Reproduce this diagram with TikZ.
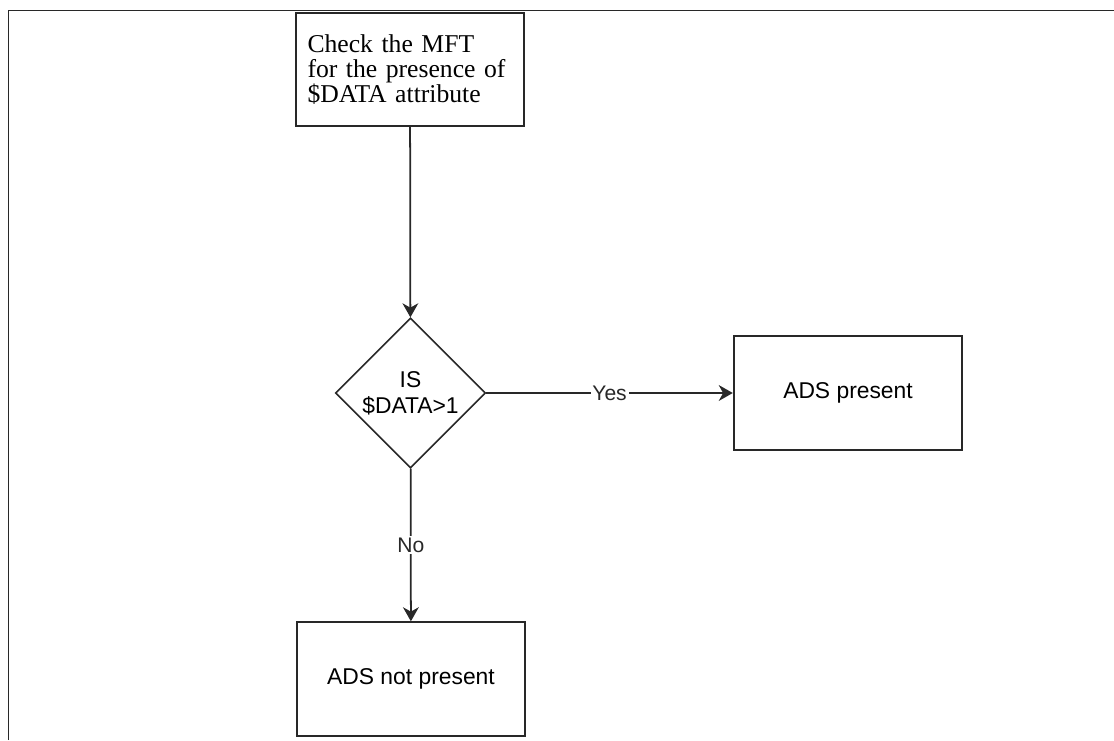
\documentclass[tikz,border=0pt]{standalone}
\usepackage{fontspec}
\setmainfont{Liberation Serif}
\setsansfont{Liberation Sans}
\usepackage{tikz}
\usetikzlibrary{arrows.meta,positioning,shapes.geometric}
\definecolor{LineGray}{RGB}{40,40,40}

\begin{document}
\begin{tikzpicture}[x=.02cm,y=-.02cm,>={Stealth[length=8pt,width=9pt,inset=2.5pt]},
    box/.style={rectangle,draw=LineGray,line width=1.1pt,minimum width=4.57cm,
      minimum height=2.27cm,inner sep=0pt,font=\sffamily\fontsize{13}{15}\selectfont},
    decision/.style={diamond,draw=LineGray,line width=.9pt,minimum size=3cm,
      inner sep=0pt,align=center,font=\sffamily\fontsize{13}{15}\selectfont},
    flow/.style={->,line width=1pt,LineGray},
    answer/.style={fill=white,inner sep=1pt,font=\sffamily\fontsize{12}{14}\selectfont}]
  \useasboundingbox (0,0) rectangle (1114,740);
  % frame of the page
  \draw[LineGray,line width=1.1pt] (8.5,740) -- (8.5,10.5) -- (1114,10.5);

  \node[box,text width=4.1cm,align=left,font=\rmfamily\fontsize{14.6}{14.2}\selectfont]
    (check) at (410,69.5) {Check the MFT\\for the presence of\\\$DATA attribute};
  \node[decision] (isdata) at (410.5,393) {IS\\\$DATA>1};
  \node[box] (present) at (848,393) {ADS present};
  \node[box] (absent) at (411,679) {ADS not present};

  \draw[flow] (check) -- (isdata);
  \draw[flow] (isdata) -- (present) node[midway,answer]{Yes};
  \draw[flow] (isdata) -- (absent) node[midway,answer]{No};
\end{tikzpicture}
\end{document}
